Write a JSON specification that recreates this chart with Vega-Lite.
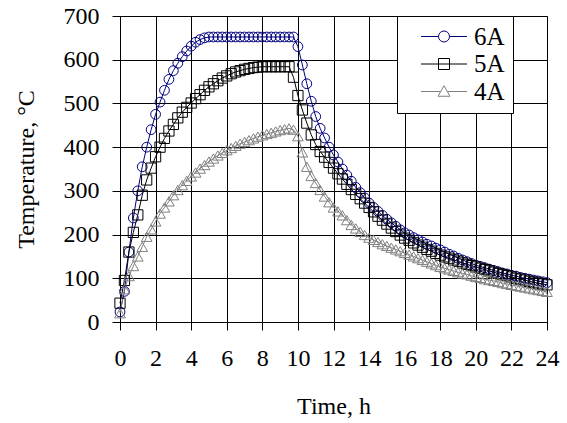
{
"$schema": "https://vega.github.io/schema/vega-lite/v6.json",
"width": 427, "height": 306,
"autosize": {"type": "none"},
"padding": {"left": 120, "top": 16, "right": 20, "bottom": 101},
"background": "white",
"config": {
  "font": "Liberation Serif",
  "view": {"stroke": "#808080", "strokeWidth": 1},
  "axis": {"labelFont": "Liberation Serif", "titleFont": "Liberation Serif", "labelFontSize": 24, "titleFontSize": 24, "titleFontWeight": "normal", "labelColor": "black", "titleColor": "black", "domainColor": "black", "tickColor": "black", "gridColor": "black", "gridOpacity": 1, "gridWidth": 1, "tickSize": 8, "domainWidth": 1, "tickWidth": 1, "labelOverlap": false, "labelFlush": false},
  "legend": {"orient": "none", "legendX": 277, "legendY": 0, "title": null, "direction": "vertical",
      "fillColor": "white", "strokeColor": "black", "padding": 8,
      "labelFont": "Liberation Serif", "labelFontSize": 25, "labelColor": "black",
      "symbolSize": 100, "symbolStrokeWidth": 1, "symbolOpacity": 1, "symbolFillColor": "transparent", "symbolOffset": 26.5, "labelOffset": 17.5, "rowPadding": 1.5}
},
"data": {"values": [
{"t":0,"s":"6A","v":23},{"t":0.25,"s":"6A","v":70},{"t":0.5,"s":"6A","v":160},{"t":0.75,"s":"6A","v":238},{"t":1,"s":"6A","v":300},{"t":1.25,"s":"6A","v":355},{"t":1.5,"s":"6A","v":400},{"t":1.75,"s":"6A","v":440},{"t":2,"s":"6A","v":475},{"t":2.25,"s":"6A","v":503},{"t":2.5,"s":"6A","v":530},{"t":2.75,"s":"6A","v":555},{"t":3,"s":"6A","v":575},{"t":3.25,"s":"6A","v":592},{"t":3.5,"s":"6A","v":607},{"t":3.75,"s":"6A","v":620},{"t":4,"s":"6A","v":631},{"t":4.25,"s":"6A","v":640},{"t":4.5,"s":"6A","v":646},{"t":4.75,"s":"6A","v":650},{"t":5,"s":"6A","v":652},{"t":5.25,"s":"6A","v":652},{"t":5.5,"s":"6A","v":652},{"t":5.75,"s":"6A","v":652},{"t":6,"s":"6A","v":652},{"t":6.25,"s":"6A","v":652},{"t":6.5,"s":"6A","v":652},{"t":6.75,"s":"6A","v":652},{"t":7,"s":"6A","v":652},{"t":7.25,"s":"6A","v":652},{"t":7.5,"s":"6A","v":652},{"t":7.75,"s":"6A","v":652},{"t":8,"s":"6A","v":652},{"t":8.25,"s":"6A","v":652},{"t":8.5,"s":"6A","v":652},{"t":8.75,"s":"6A","v":652},{"t":9,"s":"6A","v":652},{"t":9.25,"s":"6A","v":652},{"t":9.5,"s":"6A","v":652},{"t":9.75,"s":"6A","v":652},{"t":10,"s":"6A","v":630},{"t":10.25,"s":"6A","v":588},{"t":10.5,"s":"6A","v":545},{"t":10.75,"s":"6A","v":505},{"t":11,"s":"6A","v":470},{"t":11.25,"s":"6A","v":443},{"t":11.5,"s":"6A","v":421},{"t":11.75,"s":"6A","v":400},{"t":12,"s":"6A","v":382},{"t":12.25,"s":"6A","v":366},{"t":12.5,"s":"6A","v":350},{"t":12.75,"s":"6A","v":336},{"t":13,"s":"6A","v":322},{"t":13.25,"s":"6A","v":308},{"t":13.5,"s":"6A","v":296},{"t":13.75,"s":"6A","v":284},{"t":14,"s":"6A","v":272},{"t":14.25,"s":"6A","v":262},{"t":14.5,"s":"6A","v":253},{"t":14.75,"s":"6A","v":244},{"t":15,"s":"6A","v":235},{"t":15.25,"s":"6A","v":227},{"t":15.5,"s":"6A","v":219},{"t":15.75,"s":"6A","v":211},{"t":16,"s":"6A","v":204},{"t":16.25,"s":"6A","v":199},{"t":16.5,"s":"6A","v":193},{"t":16.75,"s":"6A","v":188},{"t":17,"s":"6A","v":183},{"t":17.25,"s":"6A","v":178},{"t":17.5,"s":"6A","v":174},{"t":17.75,"s":"6A","v":169},{"t":18,"s":"6A","v":165},{"t":18.25,"s":"6A","v":160},{"t":18.5,"s":"6A","v":155},{"t":18.75,"s":"6A","v":151},{"t":19,"s":"6A","v":146},{"t":19.25,"s":"6A","v":142},{"t":19.5,"s":"6A","v":138},{"t":19.75,"s":"6A","v":134},{"t":20,"s":"6A","v":130},{"t":20.25,"s":"6A","v":127},{"t":20.5,"s":"6A","v":124},{"t":20.75,"s":"6A","v":121},{"t":21,"s":"6A","v":118},{"t":21.25,"s":"6A","v":115},{"t":21.5,"s":"6A","v":112},{"t":21.75,"s":"6A","v":110},{"t":22,"s":"6A","v":107},{"t":22.25,"s":"6A","v":105},{"t":22.5,"s":"6A","v":102},{"t":22.75,"s":"6A","v":100},{"t":23,"s":"6A","v":98},{"t":23.25,"s":"6A","v":96},{"t":23.5,"s":"6A","v":94},{"t":23.75,"s":"6A","v":92},{"t":24,"s":"6A","v":90},
{"t":0,"s":"5A","v":43},{"t":0.25,"s":"5A","v":95},{"t":0.5,"s":"5A","v":160},{"t":0.75,"s":"5A","v":205},{"t":1,"s":"5A","v":245},{"t":1.25,"s":"5A","v":290},{"t":1.5,"s":"5A","v":325},{"t":1.75,"s":"5A","v":352},{"t":2,"s":"5A","v":378},{"t":2.25,"s":"5A","v":400},{"t":2.5,"s":"5A","v":420},{"t":2.75,"s":"5A","v":437},{"t":3,"s":"5A","v":452},{"t":3.25,"s":"5A","v":467},{"t":3.5,"s":"5A","v":480},{"t":3.75,"s":"5A","v":491},{"t":4,"s":"5A","v":501},{"t":4.25,"s":"5A","v":511},{"t":4.5,"s":"5A","v":520},{"t":4.75,"s":"5A","v":530},{"t":5,"s":"5A","v":538},{"t":5.25,"s":"5A","v":545},{"t":5.5,"s":"5A","v":552},{"t":5.75,"s":"5A","v":558},{"t":6,"s":"5A","v":563},{"t":6.25,"s":"5A","v":568},{"t":6.5,"s":"5A","v":572},{"t":6.75,"s":"5A","v":575},{"t":7,"s":"5A","v":578},{"t":7.25,"s":"5A","v":580},{"t":7.5,"s":"5A","v":582},{"t":7.75,"s":"5A","v":583},{"t":8,"s":"5A","v":584},{"t":8.25,"s":"5A","v":584},{"t":8.5,"s":"5A","v":584},{"t":8.75,"s":"5A","v":584},{"t":9,"s":"5A","v":584},{"t":9.25,"s":"5A","v":584},{"t":9.5,"s":"5A","v":584},{"t":9.75,"s":"5A","v":560},{"t":10,"s":"5A","v":518},{"t":10.25,"s":"5A","v":485},{"t":10.5,"s":"5A","v":455},{"t":10.75,"s":"5A","v":428},{"t":11,"s":"5A","v":406},{"t":11.25,"s":"5A","v":390},{"t":11.5,"s":"5A","v":377},{"t":11.75,"s":"5A","v":365},{"t":12,"s":"5A","v":352},{"t":12.25,"s":"5A","v":339},{"t":12.5,"s":"5A","v":327},{"t":12.75,"s":"5A","v":315},{"t":13,"s":"5A","v":303},{"t":13.25,"s":"5A","v":292},{"t":13.5,"s":"5A","v":282},{"t":13.75,"s":"5A","v":272},{"t":14,"s":"5A","v":262},{"t":14.25,"s":"5A","v":252},{"t":14.5,"s":"5A","v":242},{"t":14.75,"s":"5A","v":233},{"t":15,"s":"5A","v":224},{"t":15.25,"s":"5A","v":215},{"t":15.5,"s":"5A","v":207},{"t":15.75,"s":"5A","v":199},{"t":16,"s":"5A","v":192},{"t":16.25,"s":"5A","v":187},{"t":16.5,"s":"5A","v":181},{"t":16.75,"s":"5A","v":176},{"t":17,"s":"5A","v":171},{"t":17.25,"s":"5A","v":166},{"t":17.5,"s":"5A","v":162},{"t":17.75,"s":"5A","v":157},{"t":18,"s":"5A","v":153},{"t":18.25,"s":"5A","v":149},{"t":18.5,"s":"5A","v":146},{"t":18.75,"s":"5A","v":142},{"t":19,"s":"5A","v":139},{"t":19.25,"s":"5A","v":135},{"t":19.5,"s":"5A","v":132},{"t":19.75,"s":"5A","v":129},{"t":20,"s":"5A","v":126},{"t":20.25,"s":"5A","v":123},{"t":20.5,"s":"5A","v":120},{"t":20.75,"s":"5A","v":117},{"t":21,"s":"5A","v":114},{"t":21.25,"s":"5A","v":111},{"t":21.5,"s":"5A","v":108},{"t":21.75,"s":"5A","v":106},{"t":22,"s":"5A","v":103},{"t":22.25,"s":"5A","v":100},{"t":22.5,"s":"5A","v":98},{"t":22.75,"s":"5A","v":96},{"t":23,"s":"5A","v":93},{"t":23.25,"s":"5A","v":91},{"t":23.5,"s":"5A","v":89},{"t":23.75,"s":"5A","v":87},{"t":24,"s":"5A","v":85},
{"t":0,"s":"4A","v":20},{"t":0.25,"s":"4A","v":75},{"t":0.5,"s":"4A","v":105},{"t":0.75,"s":"4A","v":128},{"t":1,"s":"4A","v":150},{"t":1.25,"s":"4A","v":172},{"t":1.5,"s":"4A","v":195},{"t":1.75,"s":"4A","v":212},{"t":2,"s":"4A","v":230},{"t":2.25,"s":"4A","v":248},{"t":2.5,"s":"4A","v":262},{"t":2.75,"s":"4A","v":276},{"t":3,"s":"4A","v":290},{"t":3.25,"s":"4A","v":302},{"t":3.5,"s":"4A","v":313},{"t":3.75,"s":"4A","v":323},{"t":4,"s":"4A","v":333},{"t":4.25,"s":"4A","v":342},{"t":4.5,"s":"4A","v":351},{"t":4.75,"s":"4A","v":359},{"t":5,"s":"4A","v":367},{"t":5.25,"s":"4A","v":374},{"t":5.5,"s":"4A","v":381},{"t":5.75,"s":"4A","v":387},{"t":6,"s":"4A","v":393},{"t":6.25,"s":"4A","v":398},{"t":6.5,"s":"4A","v":403},{"t":6.75,"s":"4A","v":408},{"t":7,"s":"4A","v":412},{"t":7.25,"s":"4A","v":416},{"t":7.5,"s":"4A","v":420},{"t":7.75,"s":"4A","v":424},{"t":8,"s":"4A","v":427},{"t":8.25,"s":"4A","v":430},{"t":8.5,"s":"4A","v":433},{"t":8.75,"s":"4A","v":436},{"t":9,"s":"4A","v":439},{"t":9.25,"s":"4A","v":441},{"t":9.5,"s":"4A","v":443},{"t":9.75,"s":"4A","v":440},{"t":10,"s":"4A","v":425},{"t":10.25,"s":"4A","v":388},{"t":10.5,"s":"4A","v":355},{"t":10.75,"s":"4A","v":334},{"t":11,"s":"4A","v":318},{"t":11.25,"s":"4A","v":302},{"t":11.5,"s":"4A","v":287},{"t":11.75,"s":"4A","v":274},{"t":12,"s":"4A","v":262},{"t":12.25,"s":"4A","v":253},{"t":12.5,"s":"4A","v":244},{"t":12.75,"s":"4A","v":233},{"t":13,"s":"4A","v":222},{"t":13.25,"s":"4A","v":214},{"t":13.5,"s":"4A","v":206},{"t":13.75,"s":"4A","v":199},{"t":14,"s":"4A","v":193},{"t":14.25,"s":"4A","v":188},{"t":14.5,"s":"4A","v":183},{"t":14.75,"s":"4A","v":178},{"t":15,"s":"4A","v":174},{"t":15.25,"s":"4A","v":170},{"t":15.5,"s":"4A","v":166},{"t":15.75,"s":"4A","v":162},{"t":16,"s":"4A","v":158},{"t":16.25,"s":"4A","v":154},{"t":16.5,"s":"4A","v":150},{"t":16.75,"s":"4A","v":146},{"t":17,"s":"4A","v":142},{"t":17.25,"s":"4A","v":138},{"t":17.5,"s":"4A","v":134},{"t":17.75,"s":"4A","v":130},{"t":18,"s":"4A","v":126},{"t":18.25,"s":"4A","v":123},{"t":18.5,"s":"4A","v":120},{"t":18.75,"s":"4A","v":117},{"t":19,"s":"4A","v":114},{"t":19.25,"s":"4A","v":111},{"t":19.5,"s":"4A","v":109},{"t":19.75,"s":"4A","v":106},{"t":20,"s":"4A","v":103},{"t":20.25,"s":"4A","v":101},{"t":20.5,"s":"4A","v":98},{"t":20.75,"s":"4A","v":96},{"t":21,"s":"4A","v":94},{"t":21.25,"s":"4A","v":92},{"t":21.5,"s":"4A","v":89},{"t":21.75,"s":"4A","v":87},{"t":22,"s":"4A","v":85},{"t":22.25,"s":"4A","v":83},{"t":22.5,"s":"4A","v":81},{"t":22.75,"s":"4A","v":79},{"t":23,"s":"4A","v":77},{"t":23.25,"s":"4A","v":75},{"t":23.5,"s":"4A","v":73},{"t":23.75,"s":"4A","v":71},{"t":24,"s":"4A","v":69}
]},
"encoding": {
  "x": {"field": "t", "type": "quantitative", "scale": {"domain": [0, 24], "nice": false, "zero": false},
        "axis": {"values": [0,2,4,6,8,10,12,14,16,18,20,22,24], "title": "Time, h", "labelPadding": 16, "titlePadding": 24}},
  "y": {"field": "v", "type": "quantitative", "scale": {"domain": [0, 700], "nice": false},
        "axis": {"values": [0,100,200,300,400,500,600,700], "title": "Temperature, °C", "labelPadding": 13, "titlePadding": 25}}
},
"layer": [
  {"mark": {"type": "line", "strokeWidth": 1},
   "encoding": {"color": {"field": "s", "type": "nominal", "scale": {"domain": ["6A","5A","4A"], "range": ["#000080","#000000","#808080"]}, "legend": null}}},
  {"mark": {"type": "point", "filled": false, "strokeWidth": 1, "opacity": 1},
   "encoding": {
     "color": {"field": "s", "type": "nominal", "scale": {"domain": ["6A","5A","4A"], "range": ["#000080","#000000","#808080"]}, "legend": null},
     "shape": {"field": "s", "type": "nominal", "scale": {"domain": ["6A","5A","4A"], "range": ["circle","square","triangle-up"]}, "legend": null},
     "size": {"field": "s", "type": "ordinal", "scale": {"domain": ["6A","5A","4A"], "range": [95, 115, 110]}, "legend": null}
   }},
  {"transform": [{"filter": "datum.t == 0"}],
   "mark": {"type": "point", "filled": false, "strokeWidth": 1, "opacity": 0},
   "encoding": {
     "color": {"field": "s", "type": "nominal", "scale": {"domain": ["6A","5A","4A"], "range": ["#000080","#000000","#808080"]}, "legend": {"labelExpr": "datum.label + ' '"}},
     "shape": {"field": "s", "type": "nominal", "scale": {"domain": ["6A","5A","4A"], "range": ["M-4.6,0L-1.1,0M1.1,0A1.1,1.1,0,1,1,-1.1,0A1.1,1.1,0,1,1,1.1,0M1.1,0L4.6,0", "M-4.6,0L4.6,0M-1.1,-1.1L1.1,-1.1L1.1,1.1L-1.1,1.1Z", "M-4.6,0L-0.65,0M0.65,0L4.6,0M0,-1.15L1.2,0.95L-1.2,0.95Z"]}, "legend": {"labelExpr": "datum.label + ' '"}}
   }}
],
"resolve": {"scale": {"color": "independent", "shape": "independent", "size": "independent"}}
}
